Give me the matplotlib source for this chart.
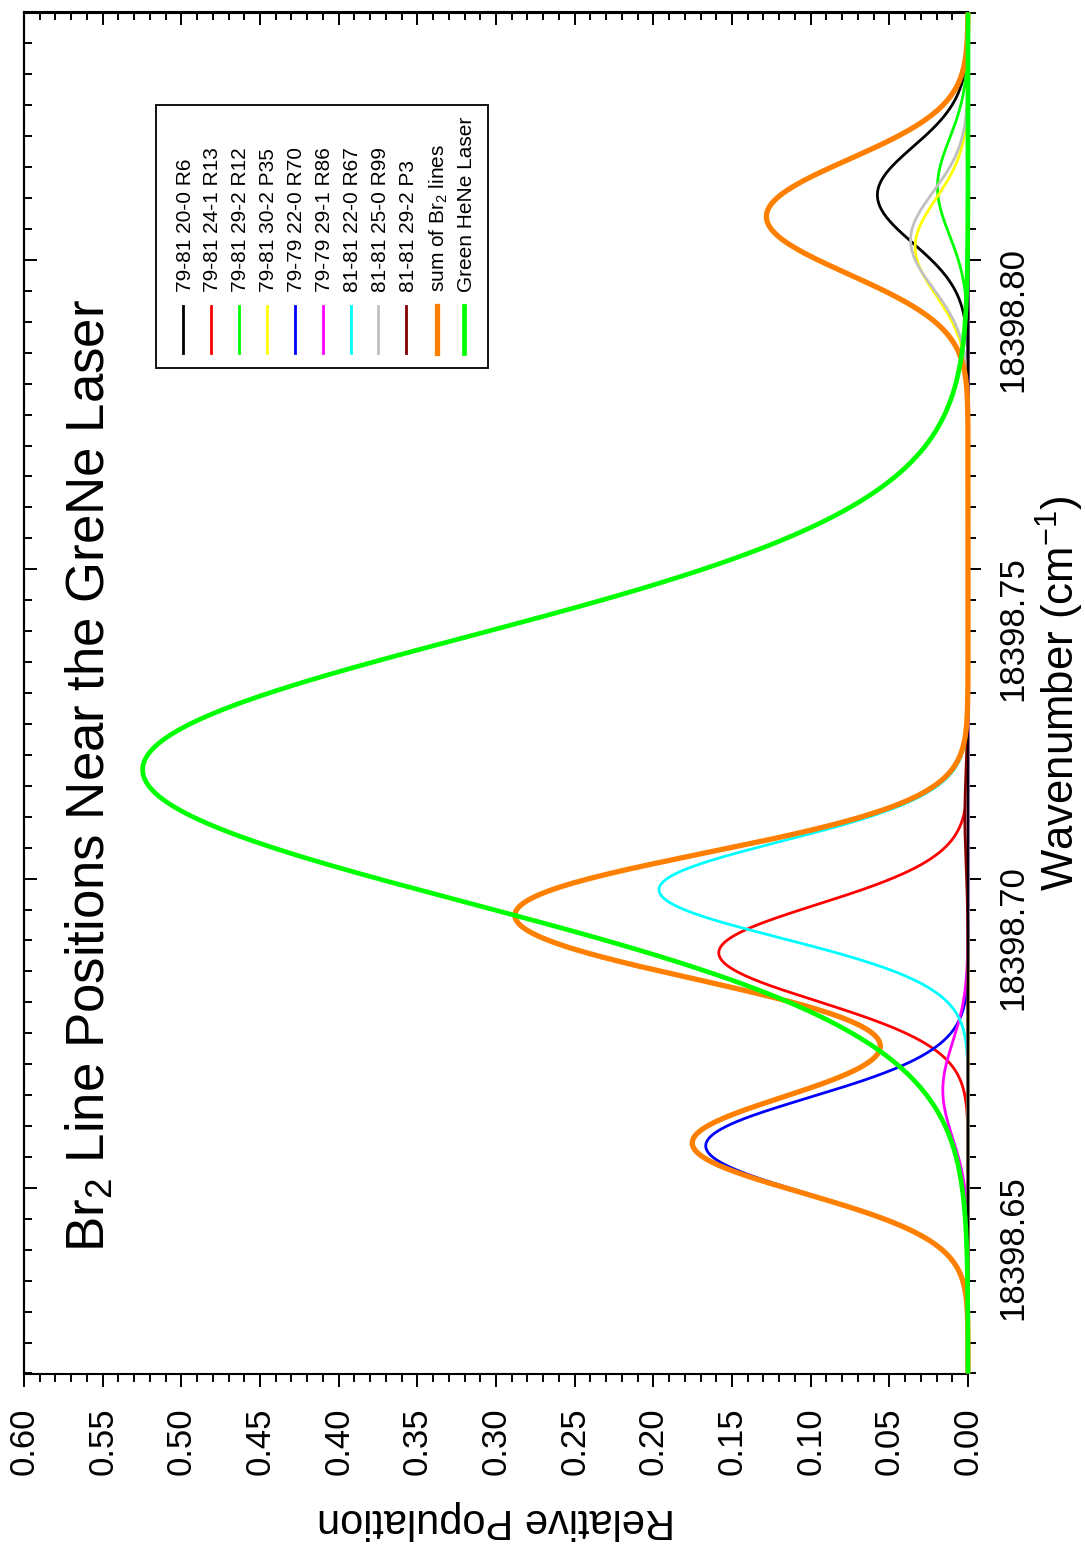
import numpy as np
import matplotlib
matplotlib.use("Agg")
import matplotlib.pyplot as plt
from matplotlib.ticker import MultipleLocator, FormatStrFormatter
from matplotlib.lines import Line2D
from matplotlib.patches import Rectangle

plt.rcParams['font.family'] = ['Liberation Sans', 'DejaVu Sans']
plt.rcParams['mathtext.fontset'] = 'custom'
plt.rcParams['mathtext.rm'] = 'Liberation Sans'
plt.rcParams['mathtext.it'] = 'Liberation Sans'
plt.rcParams['mathtext.bf'] = 'Liberation Sans:bold'
plt.rcParams['mathtext.default'] = 'regular'

# Br2 transitions near the green HeNe line
line_labels = ["79-81 20-0 R6", "79-81 24-1 R13", "79-81 29-2 R12", "79-81 30-2 P35",
               "79-79 22-0 R70", "79-79 29-1 R86", "81-81 22-0 R67", "81-81 25-0 R99",
               "81-81 29-2 P3"]
line_centers = [18398.8105, 18398.6880, 18398.8118, 18398.8021, 18398.6568,
                18398.6658, 18398.6982, 18398.8032, 18398.7100]
line_peaks = [0.0576, 0.1584, 0.0194, 0.0336, 0.1667, 0.0160, 0.1964, 0.0365, 0.0020]
line_colors = ["#000000", "#ff0000", "#00ff00", "#ffff00", "#0000ff",
               "#ff00ff", "#00ffff", "#c0c0c0", "#800000"]
doppler_sigma = 0.0078          # Gaussian (Doppler) width of each Br2 line, cm-1

sum_label = "sum of Br$_2$ lines"
laser_label = "Green HeNe Laser"
laser_center = 18398.7176
laser_peak = 0.5246
laser_sigma = 0.0215

wn_range = [18398.62, 18398.84]
wn_ticks = [18398.65, 18398.70, 18398.75, 18398.80]
pop_range = [0.60, 0.00]
pop_ticks = [0.00, 0.05, 0.10, 0.15, 0.20, 0.25, 0.30, 0.35, 0.40, 0.45, 0.50, 0.55, 0.60]

W, H = 1085, 1545


def fx(x):
    return x / W


def fy(y):
    return 1 - y / H


fig = plt.figure(figsize=(W / 100, H / 100), dpi=100)
ax = fig.add_axes([fx(24), fy(1373.5), fx(968) - fx(24), fy(12.5) - fy(1373.5)])

wn = np.linspace(wn_range[0], wn_range[1], 2201)
profiles = [p * np.exp(-0.5 * ((wn - c) / doppler_sigma) ** 2)
            for c, p in zip(line_centers, line_peaks)]
total = np.sum(profiles, axis=0)
laser = laser_peak * np.exp(-0.5 * ((wn - laser_center) / laser_sigma) ** 2)

common = dict(clip_on=False, solid_capstyle='butt')
for prof, col in zip(profiles, line_colors):
    ax.plot(prof, wn, color=col, lw=2.0, zorder=2, **common)
ax.plot(total, wn, color="#ff8000", lw=3.8, zorder=3, **common)
ax.plot(laser, wn, color="#00ff00", lw=3.4, zorder=4, **common)

ax.set_xlim(*pop_range)
ax.set_ylim(*wn_range)

for sp in ax.spines.values():
    sp.set_linewidth(1.5)

# population axis (bottom, outward ticks)
ax.xaxis.set_ticks_position('bottom')
ax.set_xticks(pop_ticks)
ax.xaxis.set_major_formatter(FormatStrFormatter('%.2f'))
ax.xaxis.set_minor_locator(MultipleLocator(0.01))
ax.tick_params(axis='x', which='major', direction='out', length=9.5, width=1.4,
               labelsize=25, labelrotation=90, pad=15)
ax.tick_params(axis='x', which='minor', direction='out', length=6.0, width=1.4)

# wavenumber axis (right, outward ticks)
ax.yaxis.set_ticks_position('right')
ax.set_yticks(wn_ticks)
ax.yaxis.set_major_formatter(FormatStrFormatter('%.2f'))
ax.yaxis.set_minor_locator(MultipleLocator(0.005))
ax.tick_params(axis='y', which='major', direction='out', length=9.5, width=1.4,
               labelsize=25, labelrotation=90, pad=11)
ax.tick_params(axis='y', which='minor', direction='out', length=6.0, width=1.4)

# inward ticks on the opposite sides
top = ax.secondary_xaxis('top')
top.set_xticks(pop_ticks)
top.xaxis.set_minor_locator(MultipleLocator(0.01))
top.tick_params(which='major', direction='in', length=9.5, width=1.4, labeltop=False)
top.tick_params(which='minor', direction='in', length=6.0, width=1.4)
top.spines['top'].set_linewidth(1.5)

left = ax.secondary_yaxis('left')
left.set_yticks(wn_ticks)
left.yaxis.set_minor_locator(MultipleLocator(0.005))
left.tick_params(which='major', direction='in', length=9.5, width=1.4, labelleft=False)
left.tick_params(which='minor', direction='in', length=6.0, width=1.4)
left.spines['left'].set_linewidth(1.5)

# axis titles and chart title
fig.text(fx(1060), fy(693), "Wavenumber (cm$^{-1}$)", rotation=90, fontsize=31.5,
         ha='center', va='center', rotation_mode='anchor')
fig.text(fx(496), fy(1520), "Relative Population", rotation=180, fontsize=30,
         ha='center', va='center', rotation_mode='anchor')
fig.text(fx(105), fy(1252), "Br$_2$ Line Positions Near the GreNe Laser", rotation=90,
         fontsize=38, ha='left', va='baseline', rotation_mode='anchor')

# legend box with vertical swatches
fig.patches.append(Rectangle((fx(156), fy(368)), fx(488) - fx(156), fy(105) - fy(368),
                             transform=fig.transFigure, facecolor='white',
                             edgecolor='black', lw=1.3, zorder=5))
entry_x = [183.3, 211, 239, 267, 295, 322.7, 350.7, 378.3, 406.3, 437, 464]
entry_labels = line_labels + [sum_label, laser_label]
entry_colors = line_colors + ["#ff8000", "#00ff00"]
entry_widths = [2.0] * len(line_labels) + [3.8, 3.4]
for x, lab, col, lw in zip(entry_x, entry_labels, entry_colors, entry_widths):
    fig.lines.append(Line2D([fx(x), fx(x)], [fy(353), fy(306)], transform=fig.transFigure,
                            color=col, lw=lw, zorder=6))
    fig.text(fx(x + 7.5), fy(292), lab, rotation=90, fontsize=15, ha='left',
             va='baseline', rotation_mode='anchor', zorder=6)

fig.savefig("out.png", dpi=100)
